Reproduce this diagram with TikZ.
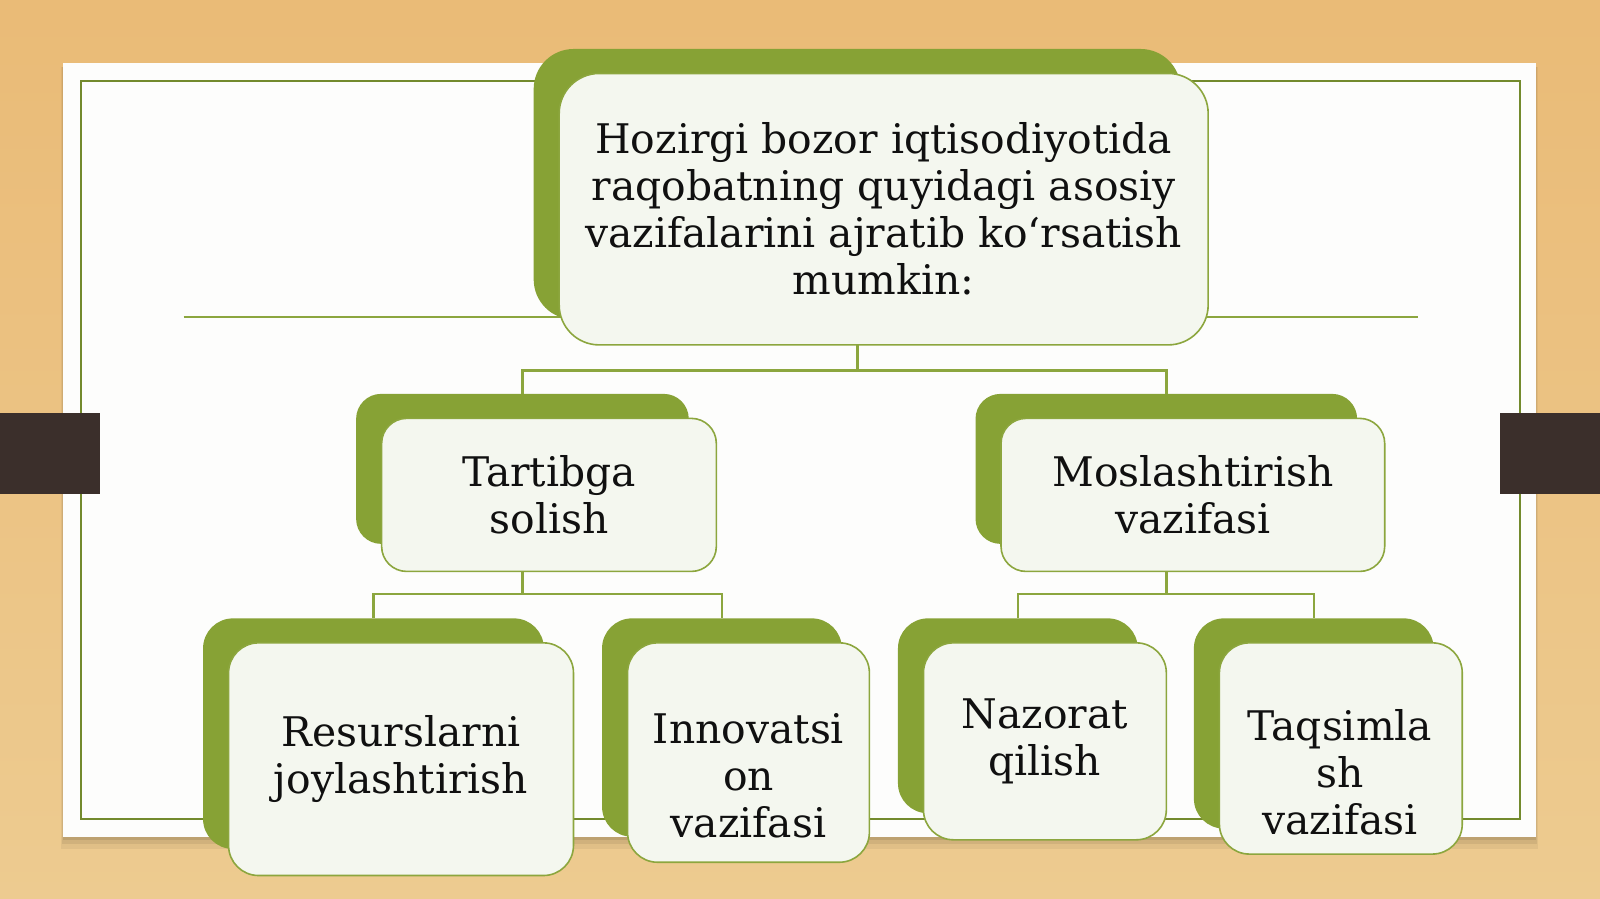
\documentclass[tikz,border=0pt]{standalone}
\usepackage{fontspec}
\setmainfont{DejaVu Serif}
\usetikzlibrary{positioning}

\definecolor{wood}{HTML}{E8C081}
\definecolor{woodlight}{HTML}{EDCB90}
\definecolor{leaf}{HTML}{87A235}
\definecolor{leafline}{HTML}{8CA63E}
\definecolor{paper}{HTML}{FDFDFC}
\definecolor{cardfill}{HTML}{F4F7EF}
\definecolor{tab}{HTML}{3B2F2B}
\definecolor{ink}{HTML}{101010}

\begin{document}
\begin{tikzpicture}[x=1pt,y=-1pt,scale=1.0204,
    back/.style={fill=leaf, rounded corners=#1, inner sep=0pt, transform shape},
    back/.default=30pt,
    card/.style={draw=leafline, line width=1.6pt, fill=cardfill, rounded corners=#1,
        inner sep=0pt, align=center, text=ink, font=\fontsize{40}{46}\selectfont, transform shape},
    card/.default=30pt,
    words/.style={align=center, inner sep=0pt, text=ink, font=\fontsize{40}{46}\selectfont, transform shape},
    link/.style={draw=leafline, line width=2.5pt}]
    % wood and paper
    \shade[top color=wood!92!orange, bottom color=woodlight] (0,0) rectangle (1568,881);
    \fill[black, opacity=0.05] (60,66) rectangle (1507,832);
    \fill[black, opacity=0.07] (61,66) rectangle (1506,827);
    \fill[black, opacity=0.09] (62,66) rectangle (1505,823);
    \fill[paper] (62,62) rectangle (1505,820);
    \draw[leaf!85!black, line width=2pt] (79,79) rectangle (1490,803);
    \fill[tab] (0,405) rectangle (98,484);
    \fill[tab] (1470,405) rectangle (1568,484);
    \draw[leafline, line width=2pt] (180,311) -- (1390,311);
    % back plates
    \node[back=40pt, minimum width=634pt, minimum height=265pt] (head back) at (840,180.5) {};
    \node[back=25pt, minimum width=326pt, minimum height=147pt] (order back) at (512,459.5) {};
    \node[back=25pt, minimum width=374pt, minimum height=147pt] (adapt back) at (1143,459.5) {};
    \node[back, minimum width=334pt, minimum height=226pt] (res back) at (366,719) {};
    \node[back, minimum width=235pt, minimum height=214pt] (inno back) at (707.5,713) {};
    \node[back, minimum width=235pt, minimum height=191pt] (ctrl back) at (997.5,701.5) {};
    \node[back, minimum width=235pt, minimum height=206pt] (dist back) at (1287.5,709) {};
    % links
    \draw[link] (head back.south) -- ++(0,50) -| (order back.north);
    \draw[link] (head back.south) -- ++(0,50) -| (adapt back.north);
    \draw[link] (order back.south) -- ++(0,49) -| (res back.north);
    \draw[link] (order back.south) -- ++(0,49) -| (inno back.north);
    \draw[link] (adapt back.south) -- ++(0,49) -| (ctrl back.north);
    \draw[link] (adapt back.south) -- ++(0,49) -| (dist back.north);
    % cards
    \node[card=40pt, minimum width=636pt, minimum height=266pt] (head) at (866,205)
        {Hozirgi bozor iqtisodiyotida\\raqobatning quyidagi asosiy\\vazifalarini ajratib ko‘rsatish\\mumkin:};
    \node[card=25pt, minimum width=328pt, minimum height=150pt] (order) at (538,485) {Tartibga\\solish};
    \node[card=25pt, minimum width=376pt, minimum height=150pt] (adapt) at (1169,485) {Moslashtirish\\vazifasi};
    \node[card, minimum width=338pt, minimum height=228pt] (res) at (393,744) {Resurslarni\\joylashtirish};
    \node[card, minimum width=237pt, minimum height=215pt] (inno) at (733.5,737.5) {};
    \node[words] (inno text) at (733.5,760) {Innovatsi\\on\\vazifasi};
    \node[card, minimum width=238pt, minimum height=193pt] (ctrl) at (1024,726.5) {Nazorat\\qilish};
    \node[card, minimum width=238pt, minimum height=207pt] (dist) at (1314,733.5) {};
    \node[words] (dist text) at (1313,757) {Taqsimla\\sh\\vazifasi};
\end{tikzpicture}
\end{document}
